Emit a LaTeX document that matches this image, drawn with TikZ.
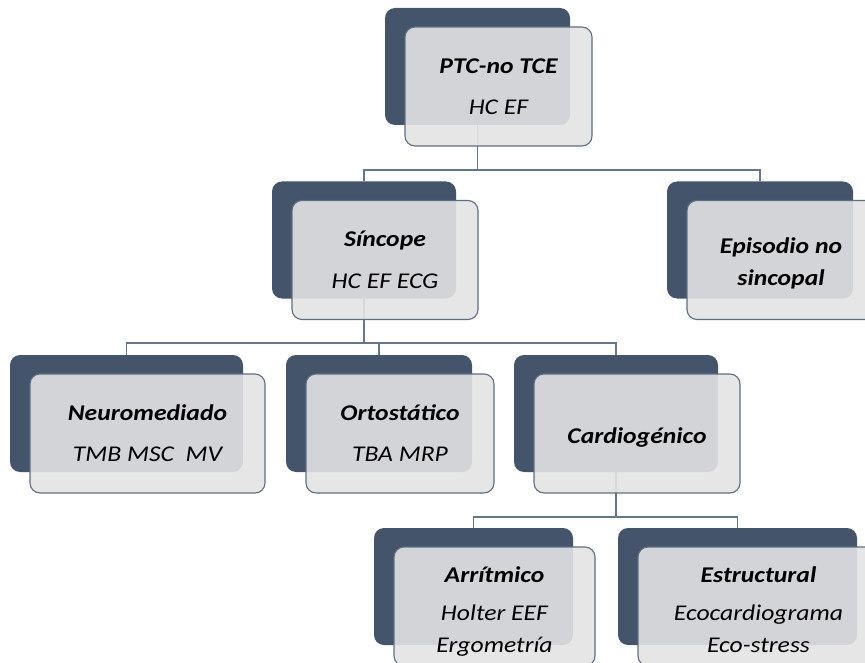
\documentclass[tikz,border=0pt]{standalone}
\usepackage{fontspec}
\setmainfont[FakeStretch=1.14]{Carlito}
\definecolor{darkbox}{HTML}{44546A}
\definecolor{frontfill}{HTML}{E3E3E3}
\definecolor{frontdraw}{HTML}{5F6E82}
\definecolor{connc}{HTML}{66758A}
\begin{document}
\begin{tikzpicture}[x=1pt,y=-1pt,
  back/.style={fill=darkbox, rounded corners=10pt, inner sep=0pt, minimum height=117pt},
  front/.style={fill=frontfill, fill opacity=0.9, draw=frontdraw, line width=1.1pt, rounded corners=10pt, inner sep=0pt, minimum height=119pt},
  ttl/.style={font=\fontsize{22.5}{27}\selectfont\bfseries\itshape, anchor=base, inner sep=0pt},
  sub/.style={font=\fontsize{22.5}{27}\selectfont\itshape, anchor=base, inner sep=0pt},
  conn/.style={draw=connc, line width=1.1pt}]
\useasboundingbox (0,0) rectangle (865,663);
% dark boxes
\node[back, minimum width=185pt] (A) at (477.5,66.5) {};
\node[back, minimum width=184pt] (B) at (364,240) {};
\node[back, minimum width=186pt] (C) at (760,240) {};
\node[back, minimum width=233pt] (D) at (126.5,413.5) {};
\node[back, minimum width=186pt] (E) at (379,413.5) {};
\node[back, minimum width=204pt] (F) at (616,413.5) {};
\node[back, minimum width=199pt] (G) at (473.5,586.5) {};
\node[back, minimum width=239pt] (H) at (737.5,586.5) {};
% junctions
\coordinate (jA) at (477.5,170);
\coordinate (jB) at (364,343);
\coordinate (jF) at (616,517);
% connectors
\draw[conn] (A.south) -- (jA);
\draw[conn] (B.north) -- (B.north |- jA) -- (C.north |- jA) -- (C.north);
\draw[conn] (B.south) -- (jB);
\draw[conn] (D.north) -- (D.north |- jB) -- (F.north |- jB) -- (F.north);
\draw[conn] (E.north) -- (E.north |- jB);
\draw[conn] (F.south) -- (jF);
\draw[conn] (G.north) -- (G.north |- jF) -- (H.north |- jF) -- (H.north);
% front boxes
\node[front, minimum width=187pt] (Af) at (498.5,86.5) {};
\node[front, minimum width=186pt] (Bf) at (385,260) {};
\node[front, minimum width=188pt] (Cf) at (781,260) {};
\node[front, minimum width=235pt] (Df) at (147.5,433.5) {};
\node[front, minimum width=188pt] (Ef) at (400,433.5) {};
\node[front, minimum width=206pt] (Ff) at (637,433.5) {};
\node[front, minimum width=201pt] (Gf) at (494.5,606.5) {};
\node[front, minimum width=241pt] (Hf) at (758.5,606.5) {};
% texts
\node[ttl] (At1) at (498.5,74) {PTC-no TCE};
\node[sub] (At2) at (498.5,115) {HC EF};
\node[ttl] (Bt1) at (385,247) {Síncope};
\node[sub] (Bt2) at (385,288) {HC EF ECG};
\node[ttl] (Ct1) at (781,254) {Episodio no};
\node[ttl] (Ct2) at (781,285) {sincopal};
\node[ttl] (Dt1) at (147.5,420) {Neuromediado};
\node[sub] (Dt2) at (147.5,461) {TMB MSC\ \ MV};
\node[ttl] (Et1) at (400,420) {Ortostático};
\node[sub] (Et2) at (400,461) {TBA MRP};
\node[ttl] (Ft1) at (637,443) {Cardiogénico};
\node[ttl] (Gt1) at (494.5,582) {Arrítmico};
\node[sub] (Gt2) at (494.5,620) {Holter EEF};
\node[sub] (Gt3) at (494.5,652) {Ergometría};
\node[ttl] (Ht1) at (758.5,582) {Estructural};
\node[sub] (Ht2) at (758.5,620) {Ecocardiograma};
\node[sub] (Ht3) at (758.5,652) {Eco-stress};
\end{tikzpicture}
\end{document}
